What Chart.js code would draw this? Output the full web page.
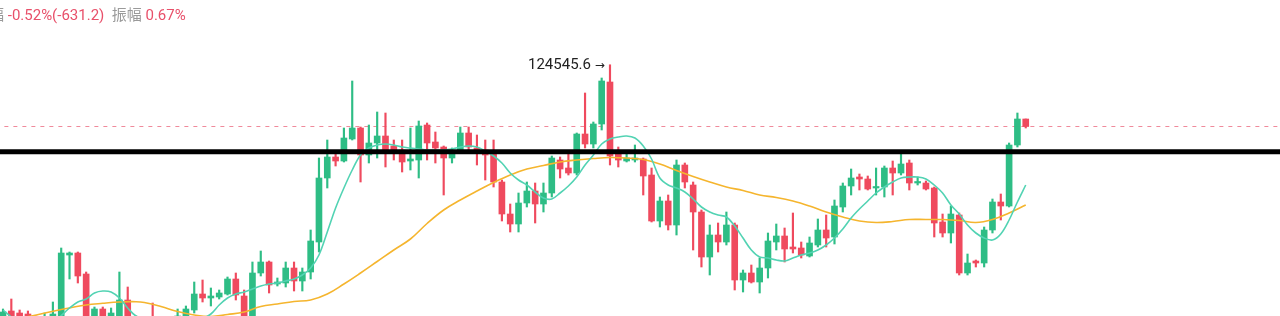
<!DOCTYPE html>
<html><head><meta charset="utf-8">
<script src="https://cdn.jsdelivr.net/npm/chart.js@4.4.1/dist/chart.umd.min.js"></script>
<style>
html,body{margin:0;padding:0;background:#fff;overflow:hidden;}
#wrap{position:relative;width:1280px;height:316px;overflow:hidden;}
#top{position:absolute;left:-26px;top:5px;font-family:Roboto,"Noto Sans CJK SC",sans-serif;font-size:15px;white-space:pre;line-height:20px;}
.g{color:#9a9a9a}.r{color:#e8506a}
#hi{position:absolute;font-family:Roboto,"DejaVu Sans",sans-serif;font-size:15px;color:#222;white-space:pre;line-height:18px;}
#hi small{font-size:12px;}
</style></head><body>
<div id="wrap"><canvas id="c" width="1280" height="316"></canvas>
<div id="top"><span class="g">涨幅</span><span class="r"> -0.52%(-631.2)</span><span class="g">  振幅</span><span class="r"> 0.67%</span></div>
<div id="hi"></div></div>
<script>
const opens = [109221,109526,109404,109343,109099,108977,108977,109099,112942,113064,111783,109099,109648,109099,109099,110197,109099,108611,109160,109099,108611,108977,109099,109587,110563,110319,110380,110563,111478,110441,109099,111844,112515,111173,111234,112149,111356,111905,113735,117639,118920,118676,120018,120689,119042,119774,120201,119591,119347,118676,118737,120872,119835,119530,118859,119347,120384,119469,119347,119225,117395,115443,114833,116114,116846,116053,116724,118737,118249,117944,120323,119713,120933,123495,119225,118676,118737,118798,117822,115016,116236,114772,118432,117212,115565,112820,114162,113735,114772,111417,111844,111295,112149,113735,114101,113430,113369,112881,113552,114467,114040,115870,117151,117700,117578,117029,117090,118249,117944,118554,117334,117334,117029,114955,114284,115382,111844,112576,112454,114467,116175,115931,119652,121238];
const highs = [109648,110258,109587,109526,109221,109404,110075,113369,113125,113125,111905,109770,109770,109709,111905,110990,109221,109099,110014,109160,109099,109648,109831,111295,111417,110929,110807,111600,111844,110807,112515,113186,112576,111539,112515,112515,112149,114467,118859,119957,119103,120689,123556,120750,120872,121665,121604,119957,119957,120689,121116,120994,120445,119591,119469,120750,120750,120262,119957,119957,117517,116053,116724,117395,117334,117334,118981,118920,119164,120384,122824,121055,123739,124545.6,119530,119164,119652,118859,118249,116480,116602,118737,118554,117395,115687,114772,114894,115565,114894,112027,112332,112759,114284,114833,114589,115504,113735,114040,115138,115382,116297,117334,118188,117883,117761,118249,118371,118676,119103,118737,117700,117456,117090,115443,115931,115504,113003,112637,114650,116358,116663,119774,121604,121238];
const lows = [109099,108977,108977,108977,108611,108855,108855,108977,111478,111234,108855,108977,108977,108977,108977,108977,108489,108367,108794,108367,108489,108855,108977,109404,110075,109831,110258,110502,110197,108977,108977,111661,110624,111051,110990,110746,110746,111478,113125,117029,118371,118615,119957,117395,118554,118859,118310,118737,118005,118127,117639,118737,118554,116602,118554,119225,119225,118432,117517,117090,115016,114345,114345,115870,114894,115565,116480,117639,117822,117822,119469,119469,120567,118432,118310,118615,118615,116602,114955,114650,114467,114162,117029,113247,112210,111722,113125,113552,110807,110685,111234,110624,111539,113247,112515,113064,112759,112820,113430,113430,113613,115565,116602,116907,116907,116602,116480,116602,117822,116907,117212,116907,114040,114040,113674,111722,111722,112210,112210,114284,115077,115870,119530,120689];
const closes = [109465,109099,109099,109099,108733,109160,109343,113064,113064,111661,108977,109648,109099,109404,110197,109099,108672,108977,108916,108611,108977,109221,109648,110563,110319,110441,110624,111478,110502,109099,111844,112515,111112,111295,112149,111356,111905,113796,117639,118920,118676,120079,120689,119042,119774,120201,119286,119225,118615,118798,120811,119774,119469,118859,119225,120384,119530,119225,119042,117395,115443,114833,116114,116846,116053,116724,118859,118188,117944,120323,119713,120933,123556,118981,118737,118859,118859,117761,115016,116236,114772,118432,117395,115565,112820,114162,113735,114772,111417,111844,111295,112149,113796,114101,113308,113308,112942,113674,114467,113979,115931,117151,117639,117578,116968,117090,118249,117944,118493,117334,117395,116968,114894,114284,115443,111844,112454,112454,114467,116175,115931,119652,121238,120780];
const maShort = [109587,109160,108855,null,108672,null,108855,null,109709,110075,110258,110624,110746,110685,110319,109709,109221,null,108855,null,108794,null,109038,null,109099,109343,109892,110319,110563,110685,110868,111051,111173,111234,111356,111478,111722,112149,112942,114345,115809,117029,118127,119042,119469,119652,119713,119652,119530,119469,119408,119347,119347,119347,119408,119530,119591,119530,119286,118981,118554,117944,117517,117212,116785,116419,116358,116724,117151,117700,118432,119042,119713,120018,120140,120201,120079,119591,118798,117639,117212,117029,116785,116358,115870,115565,115382,115260,114711,113979,113247,112820,112759,112637,112576,112759,112942,113064,113247,113552,113979,114528,115199,115748,116236,116724,117090,117395,117639,117700,117700,117578,117212,116724,115992,115443,114772,114284,113979,113857,114223,115077,116175,117212];
const maLong = [108977,null,109099,null,109282,null,null,109617,null,null,109892,null,109996,null,110075,null,110093,110044,null,109800,null,109495,null,109282,null,109190,null,109312,null,109465,null,109800,null,109953,null,110105,null,110197,null,110563,null,111173,null,111844,null,112545,null,113247,null,113918,null,114863,null,115687,null,116297,null,116846,null,117364,null,117822,null,118188,null,118401,null,118615,null,118737,null,118828,null,118889,null,118859,null,118767,null,118493,null,118096,null,117730,null,117395,null,117090,null,116876,null,116602,null,116449,null,116236,null,115931,null,115565,null,115260,null,115016,null,114924,null,114985,null,115107,null,115107,null,115107,null,115046,null,114924,null,115107,null,115504,null,115992];
const LAST_PRICE = 120780;
const LEVEL_LINE = 119237;
const Y_MIN = 109221, Y_MAX = 128497;
const X_MIN = -0.361, X_MAX = 153.58;

const idx = opens.map((_, i) => i);
const GREEN = '#2ebd85', RED = '#ef4a5e';
const colors = idx.map(i => closes[i] >= opens[i] ? GREEN : RED);

const hiPlugin = {
  id: 'hiLabel',
  afterRender(chart) {
    const xs = chart.scales.x, ys = chart.scales.y;
    let k = 0;
    highs.forEach((h, i) => { if (h > highs[k]) k = i; });
    const el = document.getElementById('hi');
    el.innerHTML = highs[k] + ' <small>→</small>';
    el.style.left = (xs.getPixelForValue(k) - 5 - el.offsetWidth) + 'px';
    el.style.top = (ys.getPixelForValue(highs[k]) - el.offsetHeight / 2) + 'px';
  }
};

new Chart(document.getElementById('c'), {
  type: 'bar',
  data: {
    datasets: [
      { type: 'line', label: 'level', data: [{x: -2, y: LEVEL_LINE}, {x: 160, y: LEVEL_LINE}],
        borderColor: '#000', borderWidth: 5, pointRadius: 0, order: 0 },
      { type: 'line', label: 'MA short', data: idx.map(i => ({x: i, y: maShort[i]})),
        borderColor: '#52d3b3', borderWidth: 1.6, pointRadius: 0, spanGaps: true, tension: 0.35, order: 1 },
      { type: 'line', label: 'MA long', data: idx.map(i => ({x: i, y: maLong[i]})),
        borderColor: '#f5b52e', borderWidth: 1.6, pointRadius: 0, spanGaps: true, tension: 0.4, order: 1 },
      { label: 'body', data: idx.map(i => ({x: i, y: [opens[i], closes[i]]})),
        backgroundColor: colors, barThickness: 6, grouped: false, minBarLength: 1.5, order: 2 },
      { label: 'wick', data: idx.map(i => ({x: i, y: [lows[i], highs[i]]})),
        backgroundColor: colors, barThickness: 1.5, grouped: false, order: 3 },
      { type: 'line', label: 'last', data: [{x: -2, y: LAST_PRICE}, {x: 160, y: LAST_PRICE}],
        borderColor: '#f08a9b', borderWidth: 1, borderDash: [4, 5], pointRadius: 0, order: 4 }
    ]
  },
  options: {
    animation: false,
    responsive: false,
    events: [],
    layout: { padding: 0 },
    plugins: { legend: { display: false }, tooltip: { enabled: false } },
    scales: {
      x: { type: 'linear', min: X_MIN, max: X_MAX, display: false, offset: false },
      y: { min: Y_MIN, max: Y_MAX, display: false }
    }
  },
  plugins: [hiPlugin]
});
</script>
</body></html>
